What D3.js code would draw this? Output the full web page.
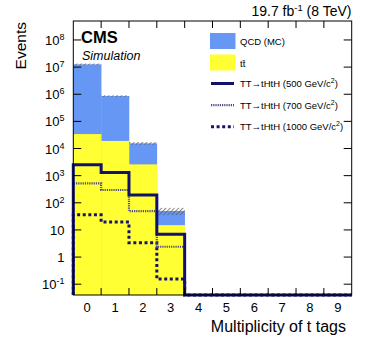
<!DOCTYPE html>
<html>
<head>
<meta charset="utf-8">
<script src="https://d3js.org/d3.v7.min.js"></script>
<style>
  body { margin: 0; background: #fff; }
  svg { display: block; font-family: "Liberation Sans", Arial, sans-serif; }
</style>
</head>
<body>
<div id="chart"></div>
<script>
// bins of the t-tag multiplicity
var bins = [0, 1, 2, 3, 4, 5, 6, 7, 8, 9];

// stacked backgrounds
var ttbar = [3.4e4, 1.9e4, 2.6e3, 15, 0, 0, 0, 0, 0, 0];
var qcd = [1.26e7, 8.4e5, 1.29e4, 35, 0, 0, 0, 0, 0, 0];
var bkgErr = [0.9e6, 6e4, 1.8e3, 15, 0, 0, 0, 0, 0, 0];

// signal samples
var sig500 = [2.5e3, 1.3e3, 194, 6.9, 0, 0, 0, 0, 0, 0];
var sig700 = [520, 296, 49, 2.4, 0, 0, 0, 0, 0, 0];
var sig1000 = [36, 19.5, 3.4, 0.156, 0, 0, 0, 0, 0, 0];

var yTicks = [-1, 0, 1, 2, 3, 4, 5, 6, 7, 8];

(function() {
  var W = 374, H = 351;
  var left = 73.3, right = 351.7, top = 21, bottom = 295;

  var svg = d3.select("#chart").append("svg")
    .attr("width", W).attr("height", H);

  var x = d3.scaleLinear().domain([-0.5, 9.5]).range([left, right]);
  var y = d3.scaleLog().domain([0.04, 5e8]).range([bottom, top]);

  // hatch for the background uncertainty
  var pat = svg.append("defs").append("pattern")
    .attr("id", "hatch").attr("patternUnits", "userSpaceOnUse")
    .attr("width", 3).attr("height", 3)
    .attr("patternTransform", "rotate(45)");
  pat.append("line").attr("x1", 0).attr("y1", 0).attr("x2", 0).attr("y2", 3)
    .attr("stroke", "#555").attr("stroke-width", 1.4);

  var plot = svg.append("g");
  var yb = function(v) { return v > 0 ? y(Math.max(v, 0.04)) : bottom; };

  // QCD on top of ttbar (drawn as the full total first)
  plot.selectAll(".qcd").data(bins.filter(function(b) { return qcd[b] + ttbar[b] > 0; }))
    .enter().append("rect")
    .attr("x", function(b) { return x(b - 0.5); })
    .attr("width", x(1) - x(0) + 0.3)
    .attr("y", function(b) { return y(qcd[b] + ttbar[b]); })
    .attr("height", function(b) { return bottom - y(qcd[b] + ttbar[b]); })
    .attr("fill", "#6797f5");

  plot.selectAll(".tt").data(bins.filter(function(b) { return ttbar[b] > 0; }))
    .enter().append("rect")
    .attr("x", function(b) { return x(b - 0.5); })
    .attr("width", x(1) - x(0) + 0.3)
    .attr("y", function(b) { return y(ttbar[b]); })
    .attr("height", function(b) { return bottom - y(ttbar[b]); })
    .attr("fill", "#ffff33");

  plot.selectAll(".err").data(bins.filter(function(b) { return bkgErr[b] > 0; }))
    .enter().append("rect")
    .attr("x", function(b) { return x(b - 0.5); })
    .attr("width", x(1) - x(0))
    .attr("y", function(b) { return y(qcd[b] + ttbar[b] + bkgErr[b]); })
    .attr("height", function(b) {
      var t = qcd[b] + ttbar[b];
      return y(t - bkgErr[b]) - y(t + bkgErr[b]);
    })
    .attr("fill", "url(#hatch)");

  // step lines for the signals
  function steps(vals) {
    var pts = [[x(-0.5), bottom]];
    vals.forEach(function(v, i) {
      pts.push([x(i - 0.5), yb(v)]);
      pts.push([x(i + 0.5), yb(v)]);
    });
    return d3.line()(pts);
  }

  var signals = [
    { vals: sig1000, color: "#14146e", width: 3, dash: "3,2.6" },
    { vals: sig700, color: "#4b4b80", width: 2.2, dash: "1.2,1" },
    { vals: sig500, color: "#12126b", width: 3, dash: null }
  ];
  signals.forEach(function(s) {
    plot.append("path").attr("d", steps(s.vals))
      .attr("fill", "none").attr("stroke", s.color)
      .attr("stroke-width", s.width)
      .attr("stroke-dasharray", s.dash);
  });

  // frame
  svg.append("rect").attr("x", left).attr("y", top)
    .attr("width", right - left).attr("height", bottom - top)
    .attr("fill", "none").attr("stroke", "#000").attr("stroke-width", 1);

  // x ticks at bin edges, top and bottom, pointing in
  var ax = svg.append("g").attr("stroke", "#000").attr("stroke-width", 1);
  d3.range(0.5, 9, 1).forEach(function(e) {
    ax.append("line").attr("x1", x(e)).attr("x2", x(e)).attr("y1", bottom).attr("y2", bottom - 7);
    ax.append("line").attr("x1", x(e)).attr("x2", x(e)).attr("y1", top).attr("y2", top + 7);
  });

  // y ticks, log minor ticks
  var ylog = y.ticks();
  ylog.forEach(function(t) {
    var p = Math.log10(t);
    var major = Math.abs(p - Math.round(p)) < 1e-6;
    var len = major ? 8 : 4;
    if (y(t) < top || y(t) > bottom) return;
    ax.append("line").attr("x1", left).attr("x2", left + len).attr("y1", y(t)).attr("y2", y(t));
    ax.append("line").attr("x1", right).attr("x2", right - len).attr("y1", y(t)).attr("y2", y(t));
  });

  // x labels at bin centres
  svg.append("g").selectAll("text").data(bins).enter().append("text")
    .attr("x", function(b) { return x(b); })
    .attr("y", 312)
    .attr("text-anchor", "middle").attr("font-size", 13)
    .text(function(b) { return b; });

  // y labels
  var yl = svg.append("g").selectAll("text").data(yTicks).enter().append("text")
    .attr("x", 64.5)
    .attr("y", function(p) { return y(Math.pow(10, p)) + 5; })
    .attr("text-anchor", "end").attr("font-size", 13);
  yl.each(function(p) {
    var t = d3.select(this);
    if (p === 0) t.text("1");
    else if (p === 1) t.text("10");
    else {
      t.append("tspan").text("10");
      t.append("tspan").attr("dy", -5).attr("font-size", 9).text(p);
    }
  });

  // axis titles
  svg.append("text").attr("transform", "translate(26," + 22 + ") rotate(-90)")
    .attr("text-anchor", "end").attr("font-size", 15.5).text("Events");
  svg.append("text").attr("x", 346).attr("y", 332)
    .attr("text-anchor", "end").attr("font-size", 16).text("Multiplicity of t tags");

  var lumi = svg.append("text").attr("x", 351.5).attr("y", 16)
    .attr("text-anchor", "end").attr("font-size", 14);
  lumi.append("tspan").text("19.7 fb");
  lumi.append("tspan").attr("dy", -5).attr("font-size", 9.5).text("-1");
  lumi.append("tspan").attr("dy", 5).text(" (8 TeV)");

  svg.append("text").attr("x", 81).attr("y", 43.3)
    .attr("font-size", 16.5).attr("font-weight", "bold").text("CMS");
  svg.append("text").attr("x", 82).attr("y", 60)
    .attr("font-size", 12.5).attr("font-style", "italic").text("Simulation");

  // legend
  var lg = svg.append("g").attr("font-size", 9.5);
  lg.append("rect").attr("x", 210).attr("y", 33).attr("width", 25.5).attr("height", 16)
    .attr("fill", "#6797f5");
  lg.append("text").attr("x", 240).attr("y", 44.5).text("QCD (MC)");
  lg.append("rect").attr("x", 210).attr("y", 54.5).attr("width", 25.5).attr("height", 16)
    .attr("fill", "#ffff33");
  lg.append("text").attr("x", 240).attr("y", 67).text("tt\u0304");

  var sigLabels = ["500", "700", "1000"];
  var legSig = [signals[2], signals[1], signals[0]];
  legSig.forEach(function(s, i) {
    var ly = 83.5 + i * 21.6;
    lg.append("line").attr("x1", 211).attr("x2", 234).attr("y1", ly).attr("y2", ly)
      .attr("stroke", s.color).attr("stroke-width", s.width)
      .attr("stroke-dasharray", s.dash);
    var t = lg.append("text").attr("x", 240).attr("y", ly + 3.5);
    t.append("tspan").text("TT\u2192tHtH (" + sigLabels[i] + " GeV/c");
    t.append("tspan").attr("dy", -4).attr("font-size", 7).text("2");
    t.append("tspan").attr("dy", 4).text(")");
  });
})();
</script>
</body>
</html>
